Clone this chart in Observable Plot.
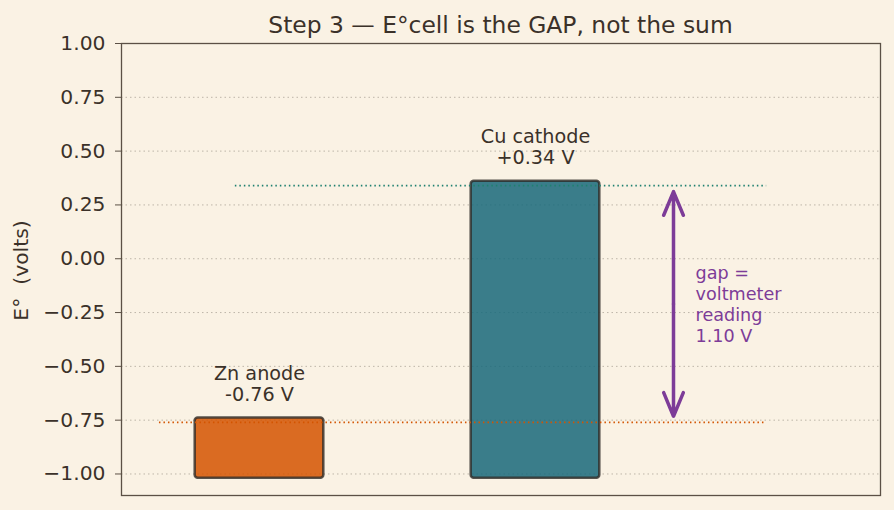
<!DOCTYPE html>
<html><head><meta charset="utf-8">
<script src="https://cdn.jsdelivr.net/npm/d3@7"></script>
<script src="https://cdn.jsdelivr.net/npm/@observablehq/plot@0.6"></script>
<style>
html,body{margin:0;padding:0;background:#FAF2E4;}
#wrap{position:relative;width:894px;height:510px;overflow:hidden;}
#title{box-sizing:border-box;width:894px;height:33px;padding:14px 14px 0 121px;text-align:center;
  font-family:'DejaVu Sans',sans-serif;font-size:23.4px;line-height:23px;color:#3b3129;white-space:nowrap;}
#chart svg{display:block;overflow:visible;}
</style></head><body>
<div id="wrap"><div id="title"></div><div id="chart"></div></div>
<script>
const titleText = "Step 3 — E°cell is the GAP, not the sum";
const yLabel = "E°  (volts)";
const categories = ["Zn anode", "Cu cathode"];
const potentials = [-0.76, 0.34];
const barLabels = ["Zn anode\n-0.76 V", "Cu cathode\n+0.34 V"];
const barColors = ["#D35400", "#17697A"];
const lineColors = ["#D35400", "#1F8070"];
const lineStartFrac = [0.05, 0.15];
const lineEndFrac = [0.85, 0.85];
const gapText = "gap =\nvoltmeter\nreading\n1.10 V";
const yTicks = [-1, -0.75, -0.5, -0.25, 0, 0.25, 0.5, 0.75, 1];

document.getElementById("title").textContent = titleText;

const xDomain = [-0.5, 2.25];
const span = xDomain[1] - xDomain[0];
const half = 0.233, pad = 0.02, base = -1.0;
const data = categories.map((c, i) => ({
  c, i, v: potentials[i], label: barLabels[i], color: barColors[i],
  line: lineColors[i],
  lx1: xDomain[0] + lineStartFrac[i] * span,
  lx2: xDomain[0] + lineEndFrac[i] * span
}));
const topV = Math.max(...potentials), botV = Math.min(...potentials);
const mid = (topV + botV) / 2;
const gapX = 1.5, gapTextX = 1.58;
const ink = "#3b3129", axisCol = "#5b5045", purple = "#7D3C98";

const chart = Plot.plot({
  width: 894, height: 477,
  marginTop: 10, marginBottom: 15, marginLeft: 121, marginRight: 14,
  style: {background: "transparent", color: ink, fontFamily: "'DejaVu Sans', sans-serif", fontSize: "20px", overflow: "visible"},
  x: {domain: xDomain, axis: null},
  y: {domain: [-1.1, 1.0], axis: null},
  color: {type: "identity"},
  marks: [
    Plot.gridY(yTicks, {stroke: "#bdb5a8", strokeOpacity: 1, strokeWidth: 1, strokeDasharray: "1.5,3"}),
    Plot.rect(data, {x1: d => d.i - half, x2: d => d.i + half, y1: base - pad, y2: d => d.v + pad,
      fill: d => d.color, fillOpacity: 0.85, stroke: "#2e2a27", strokeOpacity: 0.8, strokeWidth: 2.5, rx: 3}),
    Plot.ruleY(data, {y: "v", x1: "lx1", x2: "lx2", stroke: d => d.line, strokeWidth: 1.7, strokeDasharray: "1.5,3"}),
    Plot.arrow([{a: mid, b: topV}, {a: mid, b: botV}], {x1: gapX, x2: gapX, y1: "a", y2: "b",
      stroke: purple, strokeWidth: 3.5, headLength: 11, headAngle: 45, insetEnd: 6}),
    Plot.text(data, {x: "i", y: d => d.v + 0.1, text: "label", lineAnchor: "bottom", lineHeight: 1.1, fontSize: 19.2, fill: ink}),
    Plot.text([gapText], {x: gapTextX, y: mid, text: d => d, textAnchor: "start", lineAnchor: "middle", lineHeight: 1.18, fontSize: 17.6, fill: purple}),
    Plot.axisY(yTicks, {tickSize: 6, tickPadding: 10, tickFormat: d3.format(".2f"), stroke: axisCol, fill: ink, label: null, fontSize: 20.3}),
    Plot.text([yLabel], {frameAnchor: "left", dx: -100, dy: 1, rotate: -90, textAnchor: "middle", fontSize: 20.3, fill: ink}),
    Plot.frame({stroke: axisCol, strokeWidth: 1.3})
  ]
});
document.getElementById("chart").appendChild(chart);
</script>
</body></html>
